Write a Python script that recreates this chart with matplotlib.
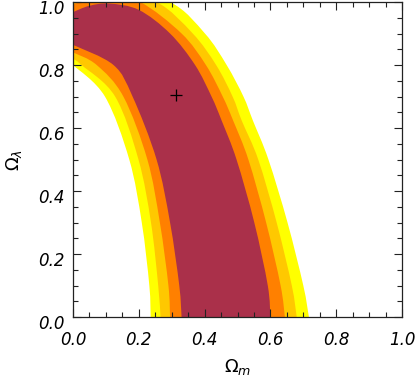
import numpy as np
import matplotlib
matplotlib.use("Agg")
import matplotlib.pyplot as plt
from matplotlib.path import Path
from matplotlib.patches import PathPatch
from matplotlib.ticker import MultipleLocator
from matplotlib.transforms import ScaledTranslation

# confidence bands, outer edge (right/top) and inner edge (left/bottom)
# points are (Omega_m, Omega_lambda)
band_colors = ["#ffff00", "#ffc800", "#ff8000", "#aa304a"]

yellow_outer_m = [0.0, 0.1, 0.295, 0.401, 0.467, 0.518, 0.547, 0.594, 0.652, 0.700, 0.717]
yellow_outer_l = [1.01, 1.06, 1.0, 0.9, 0.8, 0.7, 0.623, 0.5, 0.3, 0.1, 0.0]
gold_outer_m = [0.0, 0.1, 0.254, 0.364, 0.435, 0.485, 0.513, 0.563, 0.619, 0.665, 0.680]
gold_outer_l = [1.0, 1.04, 1.0, 0.9, 0.8, 0.7, 0.623, 0.5, 0.3, 0.1, 0.0]
orange_outer_m = [0.0, 0.1, 0.204, 0.330, 0.404, 0.455, 0.487, 0.533, 0.587, 0.631, 0.644]
orange_outer_l = [0.993, 1.02, 1.0, 0.9, 0.8, 0.7, 0.623, 0.5, 0.3, 0.1, 0.0]
crimson_outer_m = [0.0, 0.05, 0.11, 0.2, 0.295, 0.371, 0.421, 0.452, 0.497, 0.551, 0.592, 0.600]
crimson_outer_l = [0.968, 0.988, 0.995, 0.975, 0.9, 0.8, 0.7, 0.623, 0.5, 0.3, 0.1, 0.0]

yellow_inner_m = [0.0, 0.097, 0.171, 0.209, 0.232, 0.236]
yellow_inner_l = [0.80, 0.7, 0.5, 0.3, 0.1, 0.0]
gold_inner_m = [0.0, 0.026, 0.128, 0.199, 0.237, 0.259, 0.266]
gold_inner_l = [0.82, 0.8, 0.7, 0.5, 0.3, 0.1, 0.0]
orange_inner_m = [0.0, 0.072, 0.153, 0.226, 0.264, 0.290, 0.295]
orange_inner_l = [0.84, 0.8, 0.7, 0.5, 0.3, 0.1, 0.0]
crimson_inner_m = [0.0, 0.123, 0.181, 0.254, 0.295, 0.323, 0.330]
crimson_inner_l = [0.864, 0.8, 0.7, 0.5, 0.3, 0.1, 0.0]

best_fit = (0.312, 0.705)

outers = [(yellow_outer_m, yellow_outer_l), (gold_outer_m, gold_outer_l),
          (orange_outer_m, orange_outer_l), (crimson_outer_m, crimson_outer_l)]
inners = [(yellow_inner_m, yellow_inner_l), (gold_inner_m, gold_inner_l),
          (orange_inner_m, orange_inner_l), (crimson_inner_m, crimson_inner_l)]


def smooth_segments(xs, ys):
    # catmull-rom through the read points, as cubic bezier pieces
    p = np.column_stack([xs, ys])
    verts, codes = [], []
    n = len(p)
    for i in range(n - 1):
        p0 = p[max(i - 1, 0)]
        p1, p2 = p[i], p[i + 1]
        p3 = p[min(i + 2, n - 1)]
        c1 = p1 + (p2 - p0) / 6
        c2 = p2 - (p3 - p1) / 6
        verts += [tuple(c1), tuple(c2), tuple(p2)]
        codes += [Path.CURVE4] * 3
    return verts, codes


fig = plt.figure(figsize=(4.18, 3.78), dpi=100)
ax = fig.add_axes([73 / 418, 61 / 378, 329 / 418, 315 / 378])

for (om, ol), (im, il), c in zip(outers, inners, band_colors):
    verts = [(om[0], ol[0])]
    codes = [Path.MOVETO]
    v, k = smooth_segments(om, ol)
    verts += v
    codes += k
    verts.append((im[-1], il[-1]))
    codes.append(Path.LINETO)
    v, k = smooth_segments(im[::-1], il[::-1])
    verts += v
    codes += k
    verts.append((om[0], ol[0]))
    codes.append(Path.CLOSEPOLY)
    ax.add_patch(PathPatch(Path(verts, codes), facecolor=c, lw=0, zorder=1))

ax.plot(*best_fit, marker="+", color="black", ms=9, mew=0.9, zorder=3)

ax.set_xlim(0, 1)
ax.set_ylim(0, 1)
ax.xaxis.set_major_locator(MultipleLocator(0.2))
ax.xaxis.set_minor_locator(MultipleLocator(0.05))
ax.yaxis.set_major_locator(MultipleLocator(0.2))
ax.yaxis.set_minor_locator(MultipleLocator(0.05))
ax.tick_params(which="both", direction="in", top=True, right=True, color="#222222", width=0.8)
ax.tick_params(which="major", length=6, labelsize=12, pad=10)
ax.tick_params(which="minor", length=3.5)
ax.tick_params(axis="y", which="major", pad=6)
shift = ScaledTranslation(0, -5 / 100, fig.dpi_scale_trans)
for lab in ax.get_xticklabels() + ax.get_yticklabels():
    lab.set_fontstyle("italic")
for lab in ax.get_yticklabels():
    lab.set_transform(lab.get_transform() + shift)
for sp in ax.spines.values():
    sp.set_color("#222222")
    sp.set_linewidth(0.9)
    sp.set_zorder(4)

ax.set_xlabel(r"$\Omega_m$", fontsize=13, labelpad=6)
ax.set_ylabel(r"$\Omega_\lambda$", fontsize=13, labelpad=10)

fig.savefig("out.png", dpi=100)
